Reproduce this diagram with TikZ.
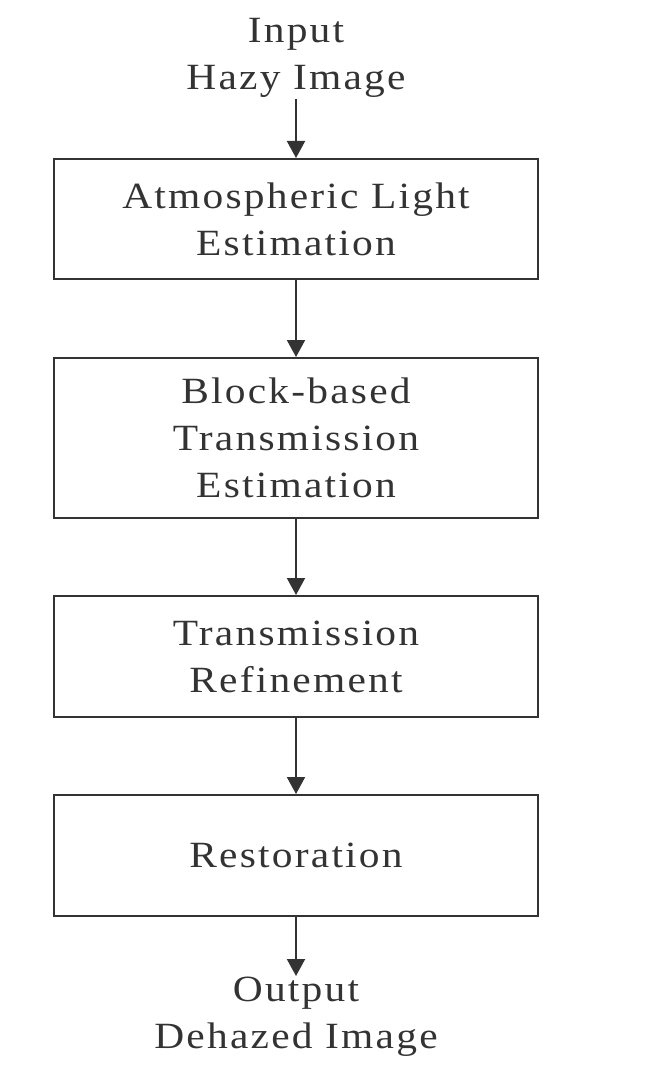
\documentclass[tikz,border=0pt]{standalone}
\usepackage{fontspec}
\setmainfont[LetterSpace=6,FakeStretch=1.12]{Liberation Serif}
\usepackage{tikz}
\usetikzlibrary{positioning}
\usetikzlibrary{arrows.meta}
\definecolor{ink}{HTML}{333333}
\tikzset{flowtip/.tip={Triangle[width=18pt,length=17pt]}}
\tikzset{
    stage/.style={draw=ink,line width=2pt,minimum width=484pt,minimum height=121pt,align=center,inner sep=4pt},
    term/.style={align=center,inner sep=1pt},
    flow/.style={draw=ink,line width=2pt,-flowtip,fill=ink}
}

\begin{document}
\begin{tikzpicture}[x=1pt,y=1pt,font=\fontsize{37}{47}\selectfont,text=ink]
            \useasboundingbox (0,0) rectangle (660,-1078);
            \node (atm) [stage,minimum height=120pt] at (296,-219) {Atmospheric Light\\Estimation};
            \node (blk) [stage,minimum height=160pt,below=77pt of atm] {Block-based\\Transmission\\Estimation};
            \node (ref) [stage,below=76pt of blk] {Transmission\\Refinement};
            \node (rst) [stage,below=76pt of ref] {Restoration};
            \node (in)  [term,above=59pt of atm] {Input\\Hazy Image};
            \node (out) [term,below=59pt of rst] {Output\\Dehazed Image};

            \draw[flow] (in) -- (atm);
            \draw[flow] (atm) -- (blk);
            \draw[flow] (blk) -- (ref);
            \draw[flow] (ref) -- (rst);
            \draw[flow] (rst) -- (out);
        \end{tikzpicture}
\end{document}
